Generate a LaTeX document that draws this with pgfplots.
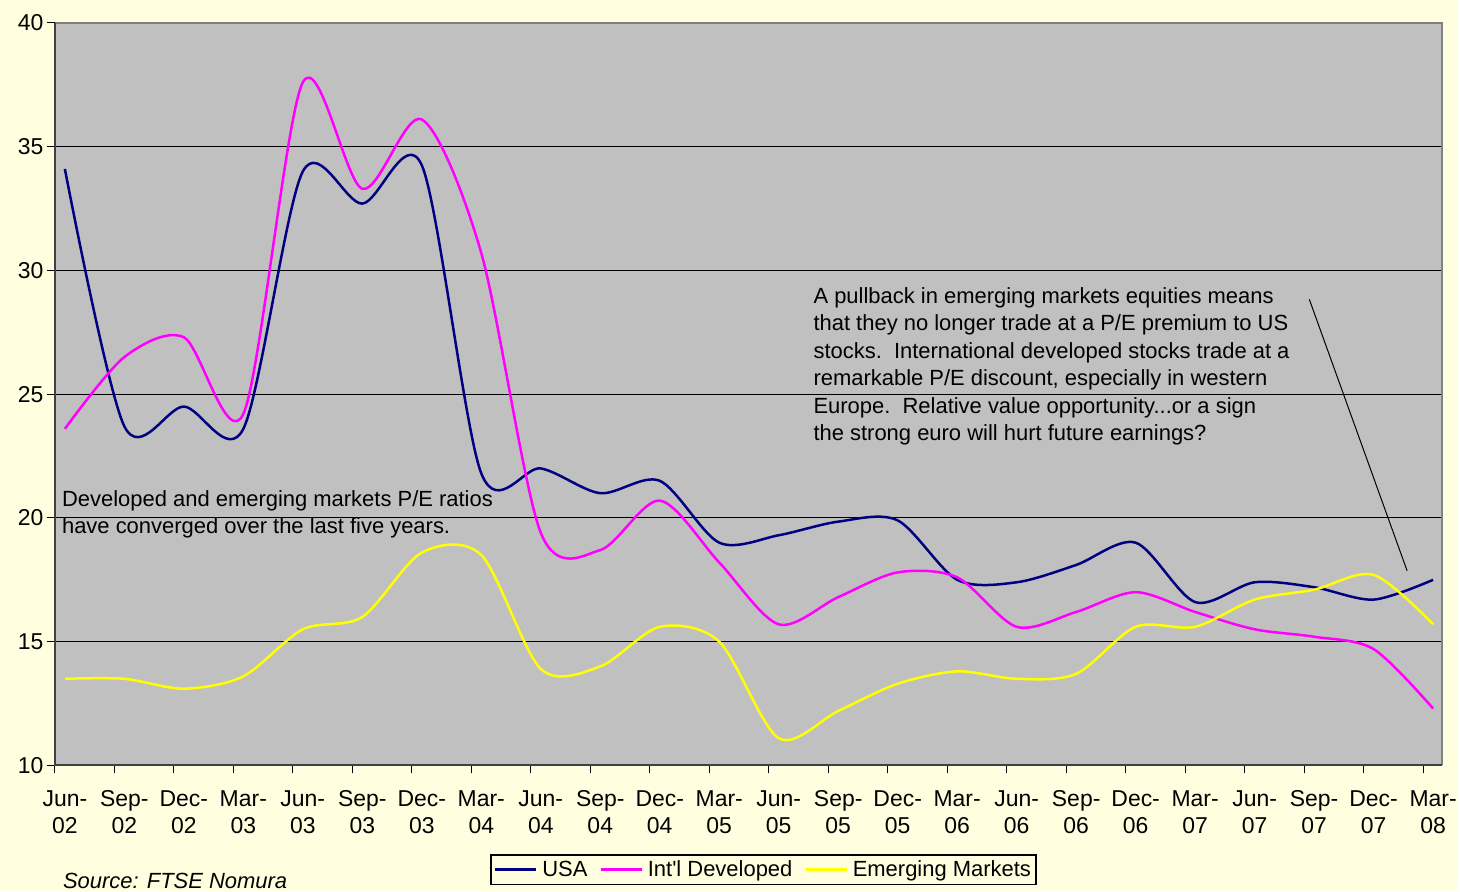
\documentclass[border=0pt]{standalone}
\usepackage{fontspec}
\setmainfont{Liberation Sans}[Ligatures=TeXOff]
\usepackage{pgfplots}
\usepackage{pgfplotstable}
\pgfplotsset{compat=1.18}
\definecolor{bgy}{HTML}{FFFFE0}
\definecolor{plotg}{HTML}{C0C0C0}
\definecolor{usa}{HTML}{000080}
\definecolor{intl}{HTML}{FF00FF}
\definecolor{em}{HTML}{FFFF00}
\definecolor{framegray}{HTML}{808080}
\definecolor{axdark}{HTML}{404040}
\pgfplotstableread{
i usa intl em
0 34.1 23.6 13.5
1 23.7 26.5 13.5
2 24.5 27.3 13.1
3 23.6 24.2 13.6
4 34.0 37.6 15.5
5 32.7 33.3 16.0
6 34.25 36.1 18.6
7 21.8 30.7 18.5
8 22.0 19.4 13.9
9 21.0 18.7 14.0
10 21.5 20.7 15.6
11 19.0 18.2 15.0
12 19.3 15.7 11.1
13 19.85 16.8 12.2
14 19.9 17.8 13.3
15 17.5 17.6 13.8
16 17.4 15.6 13.5
17 18.1 16.2 13.7
18 19.0 17.0 15.6
19 16.6 16.2 15.6
20 17.4 15.5 16.7
21 17.2 15.2 17.1
22 16.7 14.7 17.7
23 17.5 12.3 15.7
}\pedata
\begin{document}
\begin{tikzpicture}[x=1pt,y=1pt]
\fill[bgy] (0,0) rectangle (1460,893);
\begin{axis}[
  at={(55pt,126pt)}, anchor=south west,
  scale only axis, width=1390pt, height=744pt,
  xmin=-0.168, xmax=23.15, ymin=10, ymax=40,
  axis background/.style={fill=plotg},
  axis line style={draw=none},
  clip mode=individual,
  ytick={10,15,20,25,30,35,40},
  ymajorgrids, grid style={black, line width=1pt},
  xtick={-0.168,0.832,1.832,2.832,3.832,4.832,5.832,6.832,7.832,8.832,9.832,10.832,11.832,12.832,13.832,14.832,15.832,16.832,17.832,18.832,19.832,20.832,21.832,22.832},
  xticklabels={{Jun-\\02},{Sep-\\02},{Dec-\\02},{Mar-\\03},{Jun-\\03},{Sep-\\03},{Dec-\\03},{Mar-\\04},{Jun-\\04},{Sep-\\04},{Dec-\\04},{Mar-\\05},{Jun-\\05},{Sep-\\05},{Dec-\\05},{Mar-\\06},{Jun-\\06},{Sep-\\06},{Dec-\\06},{Mar-\\07},{Jun-\\07},{Sep-\\07},{Dec-\\07},{Mar-\\08}},
  xticklabel style={xshift=10pt, yshift=-14pt, align=center, font=\fontsize{23}{26.5}\selectfont},
  yticklabel style={font=\fontsize{23}{26}\selectfont, /pgf/number format/assume math mode=true},
  tick align=outside, major tick length=8pt,
  tick style={black, line width=1pt},
  xtick pos=left, ytick pos=left,
  legend style={at={(0.5108,-0.1405)}, anchor=center, legend columns=-1, draw=black, line width=1.2pt, fill=bgy, font=\fontsize{22}{26}\selectfont, inner xsep=3pt, inner ysep=4pt, /tikz/every even column/.append style={column sep=10pt}},
  legend image code/.code={\draw[#1, line width=2.5pt] (0pt,0pt) -- (41pt,0pt); \path (44pt,0pt);},
]
\addplot[usa, line width=2.5pt, smooth, tension=0.5] table[x=i, y=usa] {\pedata};
\addlegendentry{USA}
\addplot[intl, line width=2.5pt, smooth, tension=0.5] table[x=i, y=intl] {\pedata};
\addlegendentry{Int'l Developed}
\addplot[em, line width=2.5pt, smooth, tension=0.5] table[x=i, y=em] {\pedata};
\addlegendentry{Emerging Markets}
\draw[framegray, line width=2.5pt] (rel axis cs:0,1) -- (rel axis cs:1,1) -- (rel axis cs:1,0);
\draw[axdark, line width=2pt] (rel axis cs:0,1) -- (rel axis cs:0,0) -- (rel axis cs:1,0);
\end{axis}
\node[anchor=north west, align=left, font=\fontsize{22}{27.5}\selectfont, inner sep=0pt] at (62,893-491) {Developed and emerging markets P/E ratios\\have converged over the last five years.};
\node[anchor=north west, align=left, font=\fontsize{22}{27.5}\selectfont, inner sep=0pt] at (815,893-288) {A pullback in emerging markets equities means\\that they no longer trade at a P/E premium to US\\stocks.\ \ International developed stocks trade at a\\remarkable P/E discount, especially in western\\Europe.\ \ Relative value opportunity...or a sign\\the strong euro will hurt future earnings?};
\draw[black, line width=1pt] (1312,893-300) -- (1410,893-572);
\node[anchor=base west, font=\fontsize{22}{26}\selectfont\itshape, inner sep=0pt] at (63,3) {Source: FTSE Nomura};
\end{tikzpicture}
\end{document}
